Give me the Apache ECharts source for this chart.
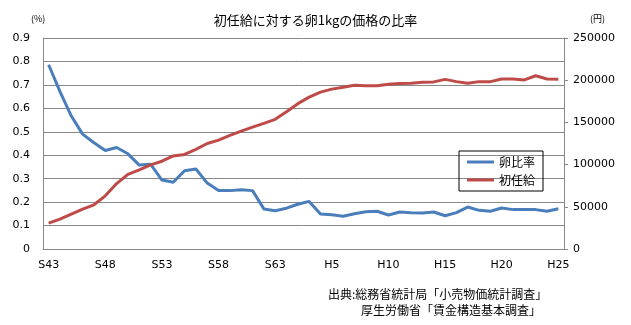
<!DOCTYPE html>
<html><head><meta charset="utf-8">
<script src="https://cdn.jsdelivr.net/npm/echarts@6/dist/echarts.min.js"></script>
<style>html,body{margin:0;padding:0;background:#fff}#c{width:631px;height:325px}</style>
</head><body><div id="c"></div>
<script>
const categories = ['S43','S44','S45','S46','S47','S48','S49','S50','S51','S52','S53','S54','S55','S56','S57','S58','S59','S60','S61','S62','S63',
  'H1','H2','H3','H4','H5','H6','H7','H8','H9','H10','H11','H12','H13','H14','H15','H16','H17','H18','H19','H20','H21','H22','H23','H24','H25'];
const eggRatio = [0.786,0.671,0.567,0.49,0.453,0.42,0.433,0.406,0.358,0.362,0.294,0.285,0.334,0.341,0.281,0.249,0.249,0.253,0.249,0.171,0.163,
  0.174,0.191,0.203,0.149,0.146,0.14,0.15,0.159,0.161,0.145,0.158,0.155,0.154,0.158,0.142,0.155,0.179,0.165,0.161,0.175,0.168,0.168,0.168,0.161,0.172];
const salary = [30600,35300,41300,47200,52400,63000,77500,88500,93800,99700,104000,110300,112000,118000,125000,129000,134700,139700,144400,148900,153600,
  162700,172200,180000,185900,189400,191700,194000,193400,193400,195200,196000,196500,197600,198000,201000,198300,196400,198300,198300,201400,201400,200300,205300,201400,201000];
const leftTicks = {min:0, max:0.9, interval:0.1};
const rightTicks = {min:0, max:250000, interval:50000};

const font = '"Noto Sans CJK JP", "DejaVu Sans", sans-serif';
const chart = echarts.init(document.getElementById('c'));
chart.setOption({
  animation:false,
  textStyle:{fontFamily:font},
  title:{text:'初任給に対する卵1kgの価格の比率', left:'center', top:9,
    textStyle:{fontSize:13, fontWeight:'normal', color:'#000', fontFamily:font}},
  grid:{left:43, right:67, top:38, bottom:76, containLabel:false},
  legend:{orient:'vertical', left:459, top:151, borderColor:'#000', borderWidth:1,
    padding:[5,8,5,8], itemGap:6, itemWidth:27, itemHeight:3, icon:'rect',
    textStyle:{fontSize:12, color:'#000', fontFamily:font},
    data:['卵比率','初任給']},
  xAxis:{type:'category', data:categories, boundaryGap:true,
    axisLine:{lineStyle:{color:'#888'}},
    axisTick:{inside:true, length:5, interval:0, lineStyle:{color:'#888'}},
    axisLabel:{interval:4, color:'#000', fontSize:11, margin:11, fontFamily:'"DejaVu Sans", sans-serif'}},
  yAxis:[
    {type:'value', min:leftTicks.min, max:leftTicks.max, interval:leftTicks.interval,
      axisLine:{show:true, lineStyle:{color:'#888'}}, axisTick:{show:false},
      splitLine:{lineStyle:{color:'#888', width:1}},
      axisLabel:{color:'#000', fontSize:11, margin:13, fontFamily:'"DejaVu Sans", sans-serif'}},
    {type:'value', min:rightTicks.min, max:rightTicks.max, interval:rightTicks.interval, position:'right',
      axisLine:{show:true, lineStyle:{color:'#888'}}, axisTick:{show:true, length:4, lineStyle:{color:'#888'}},
      splitLine:{show:false},
      axisLabel:{color:'#000', fontSize:11, margin:9, formatter:function(v){return String(v);}, fontFamily:'"DejaVu Sans", sans-serif'}}
  ],
  graphic:[
    {type:'text', left:31, top:14, style:{text:'(%)', fontSize:9, fill:'#000', fontFamily:font}},
    {type:'text', left:590, top:14, style:{text:'(円)', fontSize:9, fill:'#000', fontFamily:font}},
    {type:'text', left:328, top:288, style:{text:'出典:総務省統計局「小売物価統計調査」', fontSize:12, fill:'#000', fontFamily:font}},
    {type:'text', left:361, top:304, style:{text:'厚生労働省「賃金構造基本調査」', fontSize:12, fill:'#000', fontFamily:font}}
  ],
  series:[
    {name:'卵比率', type:'line', yAxisIndex:0, data:eggRatio, symbol:'none',
      lineStyle:{color:'#4a7ebb', width:3}, itemStyle:{color:'#4a7ebb'}},
    {name:'初任給', type:'line', yAxisIndex:1, data:salary, symbol:'none',
      lineStyle:{color:'#be4b48', width:3}, itemStyle:{color:'#be4b48'}}
  ]
});
</script></body></html>
